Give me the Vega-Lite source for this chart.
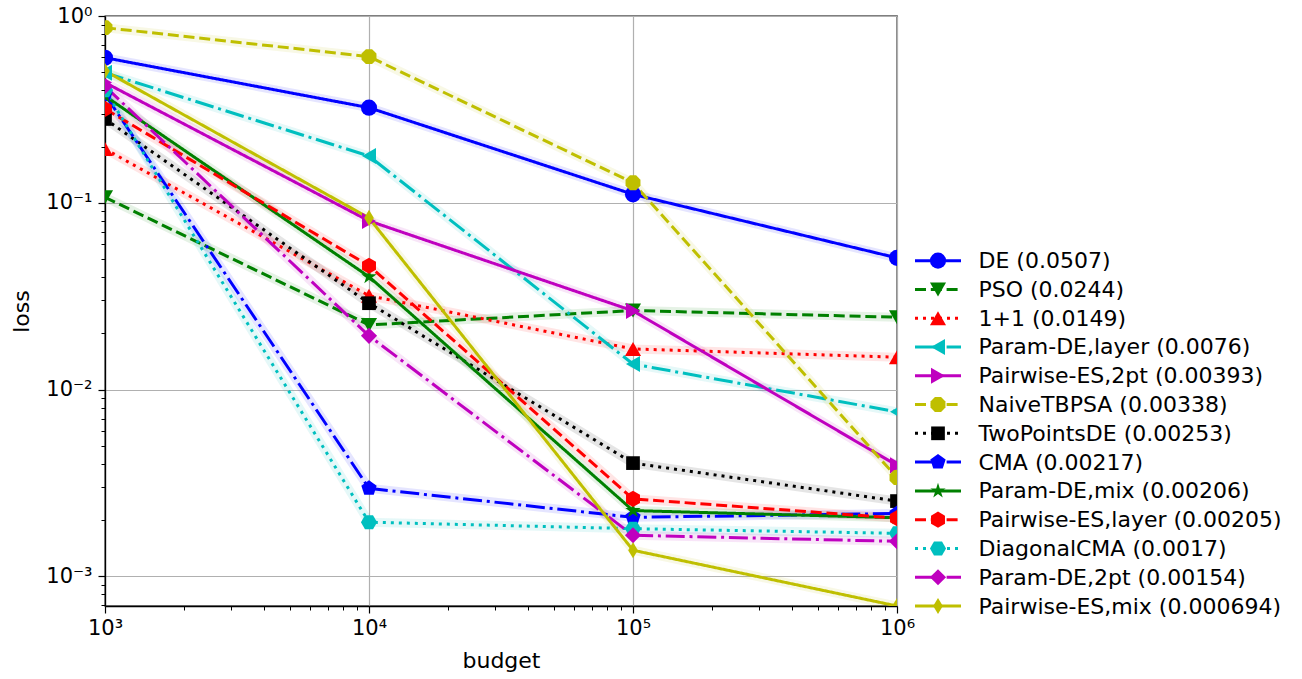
{
  "$schema": "https://vega.github.io/schema/vega-lite/v6.json",
  "padding": {"left": 10, "top": 4, "right": 5, "bottom": 2},
  "background": "white",
  "config": {
    "font": "DejaVu Sans",
    "view": {"stroke": "#000000", "strokeWidth": 1.3},
    "axis": {"labelColor": "#000000", "titleColor": "#000000", "tickColor": "#000000", "domainColor": "#000000", "titleFontWeight": "normal"}
  },
  "datasets": {
    "losses": [
      {"algo": "DE (0.0507)", "budget": 1000, "loss": 0.598},
      {"algo": "DE (0.0507)", "budget": 10000, "loss": 0.323},
      {"algo": "DE (0.0507)", "budget": 100000, "loss": 0.111},
      {"algo": "DE (0.0507)", "budget": 1000000, "loss": 0.0507},
      {"algo": "PSO (0.0244)", "budget": 1000, "loss": 0.107},
      {"algo": "PSO (0.0244)", "budget": 10000, "loss": 0.0222},
      {"algo": "PSO (0.0244)", "budget": 100000, "loss": 0.0265},
      {"algo": "PSO (0.0244)", "budget": 1000000, "loss": 0.0244},
      {"algo": "1+1 (0.0149)", "budget": 1000, "loss": 0.194},
      {"algo": "1+1 (0.0149)", "budget": 10000, "loss": 0.0318},
      {"algo": "1+1 (0.0149)", "budget": 100000, "loss": 0.0165},
      {"algo": "1+1 (0.0149)", "budget": 1000000, "loss": 0.0149},
      {"algo": "Param-DE,layer (0.0076)", "budget": 1000, "loss": 0.497},
      {"algo": "Param-DE,layer (0.0076)", "budget": 10000, "loss": 0.178},
      {"algo": "Param-DE,layer (0.0076)", "budget": 100000, "loss": 0.0137},
      {"algo": "Param-DE,layer (0.0076)", "budget": 1000000, "loss": 0.0076},
      {"algo": "Pairwise-ES,2pt (0.00393)", "budget": 1000, "loss": 0.44},
      {"algo": "Pairwise-ES,2pt (0.00393)", "budget": 10000, "loss": 0.08},
      {"algo": "Pairwise-ES,2pt (0.00393)", "budget": 100000, "loss": 0.0264},
      {"algo": "Pairwise-ES,2pt (0.00393)", "budget": 1000000, "loss": 0.00393},
      {"algo": "NaiveTBPSA (0.00338)", "budget": 1000, "loss": 0.866},
      {"algo": "NaiveTBPSA (0.00338)", "budget": 10000, "loss": 0.606},
      {"algo": "NaiveTBPSA (0.00338)", "budget": 100000, "loss": 0.128},
      {"algo": "NaiveTBPSA (0.00338)", "budget": 1000000, "loss": 0.00338},
      {"algo": "TwoPointsDE (0.00253)", "budget": 1000, "loss": 0.281},
      {"algo": "TwoPointsDE (0.00253)", "budget": 10000, "loss": 0.029},
      {"algo": "TwoPointsDE (0.00253)", "budget": 100000, "loss": 0.00404},
      {"algo": "TwoPointsDE (0.00253)", "budget": 1000000, "loss": 0.00253},
      {"algo": "CMA (0.00217)", "budget": 1000, "loss": 0.38},
      {"algo": "CMA (0.00217)", "budget": 10000, "loss": 0.00296},
      {"algo": "CMA (0.00217)", "budget": 100000, "loss": 0.00207},
      {"algo": "CMA (0.00217)", "budget": 1000000, "loss": 0.00217},
      {"algo": "Param-DE,mix (0.00206)", "budget": 1000, "loss": 0.373},
      {"algo": "Param-DE,mix (0.00206)", "budget": 10000, "loss": 0.0402},
      {"algo": "Param-DE,mix (0.00206)", "budget": 100000, "loss": 0.00225},
      {"algo": "Param-DE,mix (0.00206)", "budget": 1000000, "loss": 0.00206},
      {"algo": "Pairwise-ES,layer (0.00205)", "budget": 1000, "loss": 0.318},
      {"algo": "Pairwise-ES,layer (0.00205)", "budget": 10000, "loss": 0.046},
      {"algo": "Pairwise-ES,layer (0.00205)", "budget": 100000, "loss": 0.0026},
      {"algo": "Pairwise-ES,layer (0.00205)", "budget": 1000000, "loss": 0.00205},
      {"algo": "DiagonalCMA (0.0017)", "budget": 1000, "loss": 0.4},
      {"algo": "DiagonalCMA (0.0017)", "budget": 10000, "loss": 0.00195},
      {"algo": "DiagonalCMA (0.0017)", "budget": 100000, "loss": 0.0018},
      {"algo": "DiagonalCMA (0.0017)", "budget": 1000000, "loss": 0.0017},
      {"algo": "Param-DE,2pt (0.00154)", "budget": 1000, "loss": 0.42},
      {"algo": "Param-DE,2pt (0.00154)", "budget": 10000, "loss": 0.0194},
      {"algo": "Param-DE,2pt (0.00154)", "budget": 100000, "loss": 0.00166},
      {"algo": "Param-DE,2pt (0.00154)", "budget": 1000000, "loss": 0.00154},
      {"algo": "Pairwise-ES,mix (0.000694)", "budget": 1000, "loss": 0.508},
      {"algo": "Pairwise-ES,mix (0.000694)", "budget": 10000, "loss": 0.083},
      {"algo": "Pairwise-ES,mix (0.000694)", "budget": 100000, "loss": 0.00138},
      {"algo": "Pairwise-ES,mix (0.000694)", "budget": 1000000, "loss": 0.000694}
    ]
  },
  "hconcat": [
    {
      "width": 792,
      "height": 590,
      "data": {"name": "losses"},
      "encoding": {
        "color": {"field": "algo", "type": "nominal", "legend": null,
          "scale": {"domain": ["DE (0.0507)", "PSO (0.0244)", "1+1 (0.0149)", "Param-DE,layer (0.0076)", "Pairwise-ES,2pt (0.00393)", "NaiveTBPSA (0.00338)", "TwoPointsDE (0.00253)", "CMA (0.00217)", "Param-DE,mix (0.00206)", "Pairwise-ES,layer (0.00205)", "DiagonalCMA (0.0017)", "Param-DE,2pt (0.00154)", "Pairwise-ES,mix (0.000694)"],
            "range": ["#0000ff", "#008000", "#ff0000", "#00bfbf", "#bf00bf", "#bfbf00", "#000000", "#0000ff", "#008000", "#ff0000", "#00bfbf", "#bf00bf", "#bfbf00"]}}
      },
      "layer": [
        {
          "mark": {"type": "line", "strokeWidth": 9, "opacity": 0.1, "clip": true},
          "encoding": {
            "x": {"field": "budget", "type": "quantitative",
              "scale": {"type": "log", "domain": [1000, 1000000], "nice": false},
              "axis": {"orient": "bottom", "values": [2000, 3000, 4000, 5000, 6000, 7000, 8000, 9000, 20000, 30000, 40000, 50000, 60000, 70000, 80000, 90000, 200000, 300000, 400000, 500000, 600000, 700000, 800000, 900000], "labels": false, "grid": false, "domain": false, "tickSize": 4, "tickWidth": 1, "title": null}},
            "y": {"field": "loss", "type": "quantitative",
              "scale": {"type": "log", "domain": [0.000694, 1], "nice": false},
              "axis": {"orient": "left", "values": [0.0007, 0.0008, 0.0009, 0.002, 0.003, 0.004, 0.005, 0.006, 0.007, 0.008, 0.009, 0.02, 0.03, 0.04, 0.05, 0.06, 0.07, 0.08, 0.09, 0.2, 0.3, 0.4, 0.5, 0.6, 0.7, 0.8, 0.9], "labels": false, "grid": false, "domain": false, "tickSize": 4, "tickWidth": 1, "title": null}},
            "detail": {"field": "algo", "type": "nominal"},
            "order": {"field": "budget", "type": "quantitative"}
          }
        },
        {
          "mark": {"type": "line", "strokeWidth": 3, "clip": true},
          "encoding": {
            "x": {"field": "budget", "type": "quantitative",
              "scale": {"type": "log", "domain": [1000, 1000000], "nice": false},
              "axis": {"orient": "bottom", "values": [1000, 10000, 100000, 1000000], "labelExpr": "datum.value < 5000 ? '10³' : datum.value < 50000 ? '10⁴' : datum.value < 500000 ? '10⁵' : '10⁶'", "labelFontSize": 21, "labelPadding": 4, "tickSize": 7, "tickWidth": 1.2, "grid": true, "gridColor": "#b0b0b0", "gridWidth": 1.2, "domainWidth": 1.3, "title": "budget", "titleFontSize": 22, "titlePadding": 12, "labelFlush": false}},
            "y": {"field": "loss", "type": "quantitative",
              "scale": {"type": "log", "domain": [0.000694, 1], "nice": false},
              "axis": {"orient": "left", "values": [0.001, 0.01, 0.1, 1], "labelExpr": "datum.value > 0.5 ? '10⁰' : datum.value > 0.05 ? '10⁻¹' : datum.value > 0.005 ? '10⁻²' : '10⁻³'", "labelFontSize": 21, "labelPadding": 6, "tickSize": 7, "tickWidth": 1.2, "grid": true, "gridColor": "#b0b0b0", "gridWidth": 1.2, "domainWidth": 1.3, "title": "loss", "titleFontSize": 22, "titlePadding": 12, "labelFlush": false}},
            "strokeDash": {"field": "algo", "type": "nominal", "legend": null,
              "scale": {"domain": ["DE (0.0507)", "PSO (0.0244)", "1+1 (0.0149)", "Param-DE,layer (0.0076)", "Pairwise-ES,2pt (0.00393)", "NaiveTBPSA (0.00338)", "TwoPointsDE (0.00253)", "CMA (0.00217)", "Param-DE,mix (0.00206)", "Pairwise-ES,layer (0.00205)", "DiagonalCMA (0.0017)", "Param-DE,2pt (0.00154)", "Pairwise-ES,mix (0.000694)"],
                "range": [[1, 0], [11, 4.8], [3, 5], [19, 4.8, 3, 4.8], [1, 0], [11, 4.8], [3, 5], [19, 4.8, 3, 4.8], [1, 0], [11, 4.8], [3, 5], [19, 4.8, 3, 4.8], [1, 0]]}},
            "order": {"field": "budget", "type": "quantitative"}
          }
        },
        {
          "mark": {"type": "point", "filled": true, "opacity": 1, "size": 260, "clip": true},
          "encoding": {
            "x": {"field": "budget", "type": "quantitative", "axis": null},
            "y": {"field": "loss", "type": "quantitative", "axis": null},
            "shape": {"field": "algo", "type": "nominal", "legend": null,
              "scale": {"domain": ["DE (0.0507)", "PSO (0.0244)", "1+1 (0.0149)", "Param-DE,layer (0.0076)", "Pairwise-ES,2pt (0.00393)", "NaiveTBPSA (0.00338)", "TwoPointsDE (0.00253)", "CMA (0.00217)", "Param-DE,mix (0.00206)", "Pairwise-ES,layer (0.00205)", "DiagonalCMA (0.0017)", "Param-DE,2pt (0.00154)", "Pairwise-ES,mix (0.000694)"],
                "range": ["circle", "triangle-down", "triangle-up", "triangle-left", "triangle-right",
                  "M-0.383,-0.924L0.383,-0.924L0.924,-0.383L0.924,0.383L0.383,0.924L-0.383,0.924L-0.924,0.383L-0.924,-0.383Z",
                  "M-0.85,-0.85L0.85,-0.85L0.85,0.85L-0.85,0.85Z",
                  "M0,-1L0.951,-0.309L0.588,0.809L-0.588,0.809L-0.951,-0.309Z",
                  "M0,-1L0.2245,-0.309L0.951,-0.309L0.3633,0.118L0.588,0.809L0,0.382L-0.588,0.809L-0.3633,0.118L-0.951,-0.309L-0.2245,-0.309Z",
                  "M0,-1L0.866,-0.5L0.866,0.5L0,1L-0.866,0.5L-0.866,-0.5Z",
                  "M-1,0L-0.5,-0.866L0.5,-0.866L1,0L0.5,0.866L-0.5,0.866Z",
                  "M0,-1L1,0L0,1L-1,0Z",
                  "M0,-1L0.6,0L0,1L-0.6,0Z"]}}
          }
        }
      ],
      "resolve": {"axis": {"x": "independent", "y": "independent"}}
    },
    {
      "width": 46,
      "height": 590,
      "view": {"stroke": null},
      "data": {"name": "losses"},
      "transform": [{"filter": "datum.budget == 1000000"}],
      "encoding": {
        "y": {"field": "algo", "type": "nominal",
          "scale": {"type": "point", "domain": [" ", "  ", "   ", "    ", "     ", "      ", "       ", "        ", "DE (0.0507)", "PSO (0.0244)", "1+1 (0.0149)", "Param-DE,layer (0.0076)", "Pairwise-ES,2pt (0.00393)", "NaiveTBPSA (0.00338)", "TwoPointsDE (0.00253)", "CMA (0.00217)", "Param-DE,mix (0.00206)", "Pairwise-ES,layer (0.00205)", "DiagonalCMA (0.0017)", "Param-DE,2pt (0.00154)", "Pairwise-ES,mix (0.000694)"], "padding": 0.25, "align": 1},
          "axis": {"orient": "right", "title": null, "domain": false, "ticks": false, "grid": false, "labelFontSize": 22, "labelPadding": 17, "labelLimit": 500, "labelColor": "#000000", "labelOverlap": false}},
        "color": {"field": "algo", "type": "nominal", "legend": null,
          "scale": {"domain": ["DE (0.0507)", "PSO (0.0244)", "1+1 (0.0149)", "Param-DE,layer (0.0076)", "Pairwise-ES,2pt (0.00393)", "NaiveTBPSA (0.00338)", "TwoPointsDE (0.00253)", "CMA (0.00217)", "Param-DE,mix (0.00206)", "Pairwise-ES,layer (0.00205)", "DiagonalCMA (0.0017)", "Param-DE,2pt (0.00154)", "Pairwise-ES,mix (0.000694)"],
            "range": ["#0000ff", "#008000", "#ff0000", "#00bfbf", "#bf00bf", "#bfbf00", "#000000", "#0000ff", "#008000", "#ff0000", "#00bfbf", "#bf00bf", "#bfbf00"]}}
      },
      "layer": [
        {
          "mark": {"type": "rule", "strokeWidth": 3},
          "encoding": {
            "x": {"datum": 0, "type": "quantitative", "scale": {"domain": [0, 1], "nice": false}, "axis": null},
            "x2": {"datum": 1},
            "strokeDash": {"field": "algo", "type": "nominal", "legend": null,
              "scale": {"domain": ["DE (0.0507)", "PSO (0.0244)", "1+1 (0.0149)", "Param-DE,layer (0.0076)", "Pairwise-ES,2pt (0.00393)", "NaiveTBPSA (0.00338)", "TwoPointsDE (0.00253)", "CMA (0.00217)", "Param-DE,mix (0.00206)", "Pairwise-ES,layer (0.00205)", "DiagonalCMA (0.0017)", "Param-DE,2pt (0.00154)", "Pairwise-ES,mix (0.000694)"],
                "range": [[1, 0], [11, 4.8], [3, 5], [19, 4.8, 3, 4.8], [1, 0], [11, 4.8], [3, 5], [19, 4.8, 3, 4.8], [1, 0], [11, 4.8], [3, 5], [19, 4.8, 3, 4.8], [1, 0]]}}
          }
        },
        {
          "mark": {"type": "point", "filled": true, "opacity": 1, "size": 260},
          "encoding": {
            "x": {"datum": 0.5, "type": "quantitative", "scale": {"domain": [0, 1], "nice": false}, "axis": null},
            "shape": {"field": "algo", "type": "nominal", "legend": null,
              "scale": {"domain": ["DE (0.0507)", "PSO (0.0244)", "1+1 (0.0149)", "Param-DE,layer (0.0076)", "Pairwise-ES,2pt (0.00393)", "NaiveTBPSA (0.00338)", "TwoPointsDE (0.00253)", "CMA (0.00217)", "Param-DE,mix (0.00206)", "Pairwise-ES,layer (0.00205)", "DiagonalCMA (0.0017)", "Param-DE,2pt (0.00154)", "Pairwise-ES,mix (0.000694)"],
                "range": ["circle", "triangle-down", "triangle-up", "triangle-left", "triangle-right",
                  "M-0.383,-0.924L0.383,-0.924L0.924,-0.383L0.924,0.383L0.383,0.924L-0.383,0.924L-0.924,0.383L-0.924,-0.383Z",
                  "M-0.85,-0.85L0.85,-0.85L0.85,0.85L-0.85,0.85Z",
                  "M0,-1L0.951,-0.309L0.588,0.809L-0.588,0.809L-0.951,-0.309Z",
                  "M0,-1L0.2245,-0.309L0.951,-0.309L0.3633,0.118L0.588,0.809L0,0.382L-0.588,0.809L-0.3633,0.118L-0.951,-0.309L-0.2245,-0.309Z",
                  "M0,-1L0.866,-0.5L0.866,0.5L0,1L-0.866,0.5L-0.866,-0.5Z",
                  "M-1,0L-0.5,-0.866L0.5,-0.866L1,0L0.5,0.866L-0.5,0.866Z",
                  "M0,-1L1,0L0,1L-1,0Z",
                  "M0,-1L0.6,0L0,1L-0.6,0Z"]}}
          }
        }
      ]
    }
  ],
  "spacing": 18,
  "bounds": "flush",
  "resolve": {"scale": {"x": "independent", "y": "independent"}}
}
